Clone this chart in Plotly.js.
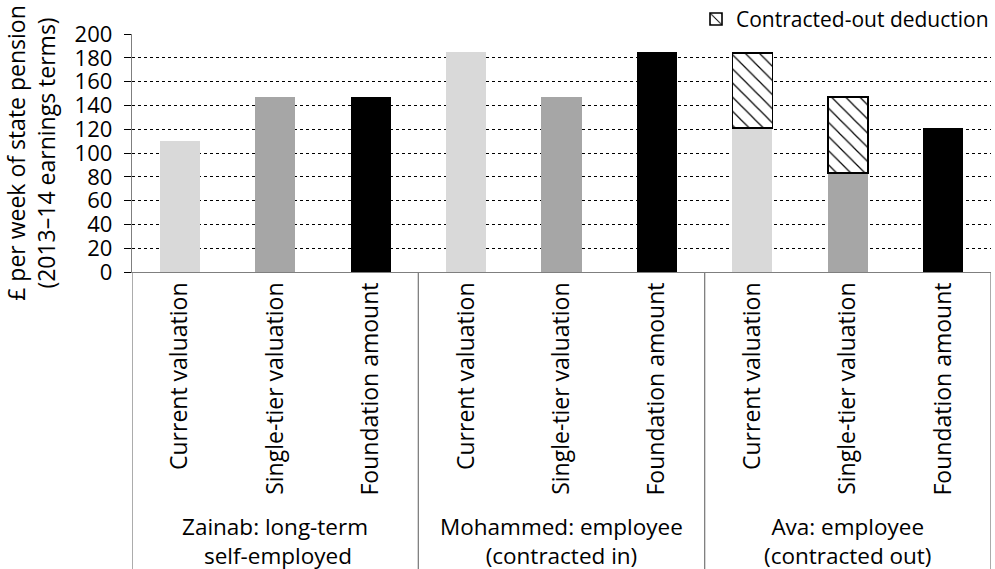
<!DOCTYPE html>
<html>
<head>
<meta charset="utf-8">
<script src="https://cdn.plot.ly/plotly-3.0.1.min.js"></script>
<style>html,body{margin:0;padding:0;background:#fff;}#chart{width:995px;height:569px;}</style>
</head>
<body>
<div id="chart"></div>
<script>
// ---- data ----
const barLabels = ['Current valuation','Single-tier valuation','Foundation amount',
                   'Current valuation','Single-tier valuation','Foundation amount',
                   'Current valuation','Single-tier valuation','Foundation amount'];
const groupLabels = ['Zainab: long-term<br> self-employed','Mohammed: employee<br>(contracted in)','Ava: employee<br>(contracted out)'];
const pensionValues = [110, 147, 147, 185, 147, 185, 121, 83, 121];
const contractedOutDeduction = [null, null, null, null, null, null, 63, 64, null];
const yTicks = [0,20,40,60,80,100,120,140,160,180,200];

// ---- styling ----
const shadeCycle = ['#d9d9d9','#a6a6a6','#000000'];
const xs = barLabels.map((_, i) => i);
const barColors = xs.map(i => shadeCycle[i % 3]);
const FONT = 'Open Sans, DejaVu Sans, sans-serif';

const traces = [
  {type:'bar', x:xs, y:pensionValues, marker:{color:barColors, line:{width:0}},
   width:0.42, showlegend:false, hoverinfo:'y'},
  {type:'bar', x:xs, y:contractedOutDeduction, name:'Contracted-out deduction',
   width:0.42,
   marker:{color:'#ffffff', line:{color:'#000', width:1.6},
           pattern:{shape:'\\', fgcolor:'#000', bgcolor:'#fff', size:10, solidity:0.12}},
   showlegend:true}
];

const shapes = [];
[-0.5, 2.5, 5.5, 8.5].forEach(v => {
  shapes.push({type:'line', xref:'x', yref:'paper', x0:v, x1:v, y0:0, y1:-1.26,
               line:{color:'#7f7f7f', width:1.3}});
});

const annotations = groupLabels.map((g, k) => ({
  text:g, xref:'x', yref:'paper', x:k*3+1, y:-1.132, yanchor:'middle',
  showarrow:false, font:{family:FONT, size:22.5, color:'#000'}, align:'center'
}));

const layout = {
  width:995, height:569,
  margin:{l:132, r:4, t:34, b:297, autoexpand:false},
  paper_bgcolor:'#fff', plot_bgcolor:'#fff',
  barmode:'stack',
  font:{family:FONT, color:'#000'},
  xaxis:{range:[-0.5,8.5], tickvals:xs, ticktext:barLabels, tickangle:-90, automargin:false,
         tickfont:{family:FONT, size:23, color:'#000'}, ticks:'', showgrid:false,
         showline:true, linecolor:'#7f7f7f', linewidth:1.3, zeroline:false, fixedrange:true},
  yaxis:{range:[0,200], tickvals:yTicks, ticks:'outside', ticklen:7, tickcolor:'#000', tickwidth:1,
         ticklabelstandoff:7, automargin:false,
         tickfont:{family:FONT, size:22, color:'#000'},
         showgrid:true, gridcolor:'#000', gridwidth:1, griddash:'dot',
         showline:true, linecolor:'#7f7f7f', linewidth:1.3, zeroline:false,
         title:{text:'£ per week of state pension<br>(2013–14 earnings terms)',
                font:{family:FONT, size:23, color:'#000'}, standoff:12}},
  legend:{xref:'container', yref:'container', x:0.999, xanchor:'right', y:0.966, yanchor:'middle',
          orientation:'h',
          font:{family:FONT, size:21, color:'#000'}, bgcolor:'rgba(0,0,0,0)',
          itemwidth:30, tracegroupgap:0},
  shapes:shapes,
  annotations:annotations
};

Plotly.newPlot('chart', traces, layout, {displayModeBar:false, staticPlot:true});
</script>
</body>
</html>
